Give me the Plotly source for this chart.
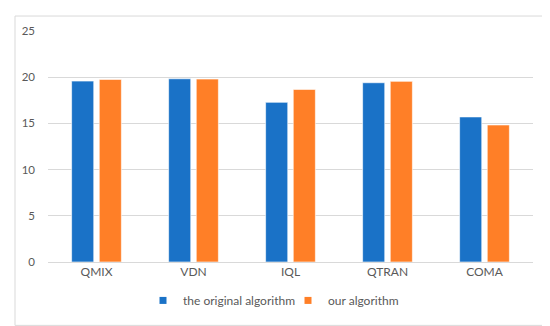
import plotly.graph_objects as go

categories = ["QMIX", "VDN", "IQL", "QTRAN", "COMA"]
original_values = [19.58, 19.83, 17.28, 19.40, 15.70]
our_values = [19.76, 19.80, 18.68, 19.55, 14.83]
series_names = ["the original algorithm", "our algorithm"]
series_colors = ["#1a72c7", "#ff7f27"]
y_ticks = [0, 5, 10, 15, 20, 25]

W, H = 550, 326
ML, MR, MT, MB = 40, 25, 23, 71.5
PW, PH = W - ML - MR, H - MT - MB

fig = go.Figure()
for name, vals, col in zip(series_names, [original_values, our_values], series_colors):
    fig.add_trace(go.Bar(
        x=categories, y=vals, name=name, showlegend=False,
        marker=dict(color=col, line=dict(color="rgba(255,255,255,0.6)", width=1)),
    ))
for name, col in zip(series_names, series_colors):
    fig.add_trace(go.Scatter(
        x=[None], y=[None], mode="markers", name=name,
        marker=dict(symbol="square", size=7, color=col),
    ))

def px_x(p):
    return (p - ML) / PW

def px_y(p):
    return (H - MB - p) / PH

fig.add_shape(type="rect", xref="paper", yref="paper",
              x0=px_x(7), x1=px_x(540), y0=px_y(318), y1=px_y(8),
              line=dict(color="#d9d9d9", width=1), fillcolor="rgba(0,0,0,0)", layer="below")

fig.update_layout(
    width=W, height=H,
    margin=dict(l=ML, r=MR, t=MT, b=MB),
    paper_bgcolor="white", plot_bgcolor="white",
    barmode="group", bargap=0.43, bargroupgap=0.2,
    font=dict(family="Lato, Carlito, sans-serif", size=12, color="#595959"),
    xaxis=dict(showgrid=False, showline=False, ticks="", ticklabelstandoff=1,
               tickfont=dict(size=12, color="#595959")),
    yaxis=dict(range=[0, 25], tickvals=y_ticks, showgrid=True, gridcolor="#d9d9d9",
               gridwidth=1, zeroline=True, zerolinecolor="#d9d9d9", zerolinewidth=1,
               showline=False, ticks="", ticklabelstandoff=12,
               tickfont=dict(size=11.5, color="#595959")),
    legend=dict(orientation="h", x=px_x(135), xanchor="left", y=px_y(293), yanchor="middle",
                font=dict(size=12, color="#595959"), bgcolor="rgba(0,0,0,0)",
                itemwidth=30, tracegroupgap=0, entrywidth=100, entrywidthmode="pixels"),
)

fig.write_html("out.html")
